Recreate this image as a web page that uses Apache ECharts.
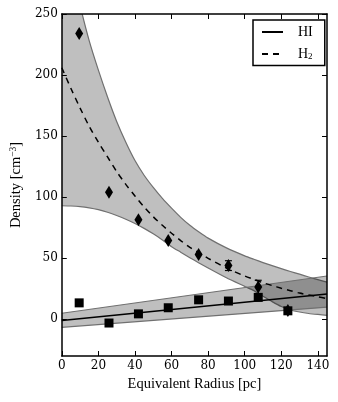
<!DOCTYPE html>
<html>
<head>
<meta charset="utf-8">
<script src="https://cdn.jsdelivr.net/npm/echarts@6/dist/echarts.min.js"></script>
<style>
	html, body { margin:0; padding:0; background:#fff; }
	#chart { width:338px; height:402px; }
</style>
</head>
<body>
<div id="chart"></div>
<script>
//测量点
var radius = [9.5, 25.8, 41.9, 58.2, 74.8, 91.1, 107.4, 123.6];
var hiDensity = [13.5, -3, 4.5, 9.5, 16, 15, 18, 7];
var h2Density = [234, 104, 81.5, 64.5, 53, 44, 26.5, 7.3];
var h2Err = [0, 0, 0, 0, 0, 4, 5.5, 0];

//H2 拟合曲线及置信带
var h2FitX = [0, 5, 10, 15, 20, 25, 30, 35, 40, 45, 50, 55, 60, 65, 70, 75, 80, 90, 100, 105, 110, 115, 120, 125, 130, 135, 140, 145];
var h2Fit = [206, 189, 173, 158, 145, 133, 121, 110.5, 101, 92, 84, 77, 70.5, 64.5, 59, 54.5, 50, 42, 35.5, 32.7, 30, 27.7, 25.5, 23.5, 21.5, 20, 18.5, 17];
var h2Upper = [329, 290, 257, 228, 204, 182, 162, 145, 130, 118, 108, 99, 91, 83.5, 77, 71.5, 66.5, 58.5, 52, 49.2, 46.5, 44, 41.5, 39.2, 37, 34.7, 32.5, 30.5];
var h2Lower = [93, 92.8, 92.3, 91.3, 89.8, 87.7, 85, 82, 78.5, 74.5, 70, 65, 59.5, 55, 50.5, 46.2, 42, 34, 27, 23.5, 19, 14.5, 10.5, 7.7, 6, 4.8, 4, 3.3];

//HI 拟合直线及置信带
var hiFitX = [0, 145];
var hiFit = [-1, 20.8];
var hiUpper = [5, 35.5];
var hiLower = [-6.5, 10];

//刻度
var xTicks = [0, 20, 40, 60, 80, 100, 120, 140];
var yTicks = [0, 50, 100, 150, 200, 250];

var serif = 'DejaVu Serif';
var serifText = 'Liberation Serif';

var pairs = function(xs, ys){
	return xs.map(function(x, i){ return [x, ys[i]]; });
};

var axisBase = function(pos, ticks, show){
	return {
		type:'value', position:pos, z:10,
		axisLine:{show:true, onZero:false, lineStyle:{color:'#000', width:1.5}},
		axisTick:{show:true, inside:true, length:5, customValues:ticks, lineStyle:{color:'#000', width:1}},
		axisLabel:{show:show, customValues:ticks, margin:4, color:'#000', fontFamily:serif, fontSize:12},
		splitLine:{show:false}
	};
};

var xBottom = axisBase('bottom', xTicks, true);
xBottom.min = 0; xBottom.max = 145;
xBottom.name = 'Equivalent Radius [pc]';
xBottom.nameLocation = 'middle';
xBottom.nameGap = 19;
xBottom.nameTextStyle = {color:'#000', fontFamily:serifText, fontSize:14.5};
var xTop = axisBase('top', xTicks, false);
xTop.min = 0; xTop.max = 145;

var yLeft = axisBase('left', yTicks, true);
yLeft.min = -30; yLeft.max = 250;
yLeft.name = 'Density [cm{sup|\u22123}]';
yLeft.nameLocation = 'middle';
yLeft.nameGap = 33;
yLeft.nameTextStyle = {color:'#000', fontFamily:serifText, fontSize:14.5,
	rich:{sup:{fontFamily:serifText, fontSize:9.5, padding:[0, 0, 7, 0]}}};
var yRight = axisBase('right', yTicks, false);
yRight.min = -30; yRight.max = 250;

//置信带: 上下边界围成的多边形
var band = function(xs, up, low){
	return {
		type:'custom', clip:true, silent:true, z:1,
		data:[[xs[0], up[0]]],
		renderItem:function(params, api){
			var top = xs.map(function(x, i){ return api.coord([x, up[i]]); });
			var bottom = xs.map(function(x, i){ return api.coord([x, low[i]]); });
			var edge = {stroke:'#707070', lineWidth:1.2, fill:null};
			return {type:'group', children:[
				{type:'polygon', shape:{points:top.concat(bottom.slice().reverse())}, style:{fill:'rgba(0,0,0,0.25)'}},
				{type:'polyline', shape:{points:top, smooth:0.2}, style:edge},
				{type:'polyline', shape:{points:bottom, smooth:0.2}, style:edge}
			]};
		}
	};
};

var series = [band(h2FitX, h2Upper, h2Lower), band(hiFitX, hiUpper, hiLower)];

series.push({
	name:'HI', type:'line', data:pairs(hiFitX, hiFit), symbol:'none',
	lineStyle:{color:'#000', width:1.5}, itemStyle:{color:'#000'}, z:3
});
series.push({
	name:'H2', type:'line', data:pairs(h2FitX, h2Fit), symbol:'none', smooth:0.3,
	lineStyle:{color:'#000', width:1.5, type:[6, 5]}, itemStyle:{color:'#000'}, z:3
});
//误差棒
series.push({
	type:'custom', z:4, silent:true, clip:true,
	data:radius.map(function(x, i){ return [x, h2Density[i] - h2Err[i], h2Density[i] + h2Err[i]]; }),
	renderItem:function(params, api){
		if( api.value(2) - api.value(1) <= 0 ){
			return null;
		}
		var lo = api.coord([api.value(0), api.value(1)]);
		var hi = api.coord([api.value(0), api.value(2)]);
		var style = {stroke:'#000', lineWidth:1.2};
		return {type:'group', children:[
			{type:'line', shape:{x1:lo[0], y1:lo[1], x2:hi[0], y2:hi[1]}, style:style},
			{type:'line', shape:{x1:hi[0] - 3.5, y1:hi[1], x2:hi[0] + 3.5, y2:hi[1]}, style:style},
			{type:'line', shape:{x1:lo[0] - 3.5, y1:lo[1], x2:lo[0] + 3.5, y2:lo[1]}, style:style}
		]};
	}
});
series.push({
	type:'scatter', data:pairs(radius, hiDensity), symbol:'rect', symbolSize:9,
	itemStyle:{color:'#000', opacity:1}, z:5, silent:true
});
series.push({
	type:'scatter', data:pairs(radius, h2Density), symbol:'diamond', symbolSize:[8, 13],
	itemStyle:{color:'#000', opacity:1}, z:5, silent:true
});

var chart = echarts.init(document.getElementById('chart'), null, {renderer:'canvas'});
chart.setOption({
	animation:false,
	backgroundColor:'#fff',
	grid:{left:58, right:11, top:14, bottom:46, containLabel:false},
	xAxis:[xBottom, xTop],
	yAxis:[yLeft, yRight],
	legend:{
		data:['HI', 'H2'], orient:'vertical', left:253, top:20, z:12,
		padding:[5, 12, 4, 8], itemGap:8, itemWidth:21, itemHeight:14,
		backgroundColor:'#fff', borderColor:'#000', borderWidth:1.5, borderRadius:0,
		selectedMode:false,
		itemStyle:{opacity:0},
		formatter:function(name){ return name == 'H2' ? 'H{sub|2}' : name; },
		textStyle:{color:'#000', fontFamily:serifText, fontSize:14, padding:[0, 0, 0, 10],
			rich:{sub:{fontFamily:serifText, fontSize:9, padding:[6, 0, 0, 0]}}}
	},
	series:series
});
</script>
</body>
</html>
